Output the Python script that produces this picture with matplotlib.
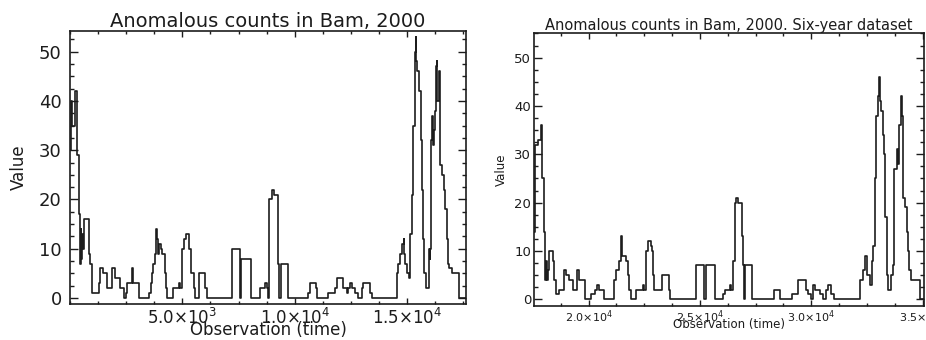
import matplotlib
matplotlib.use("Agg")
import matplotlib.pyplot as plt
from matplotlib.ticker import FixedLocator, MultipleLocator

# left panel: Bam 2000 (step values, x = observation start of each step)
left_x = [0, 40, 100, 220, 330, 400, 450, 480, 510, 540, 570, 610, 840, 910, 980,
          1280, 1350, 1470, 1650, 1870, 2020, 2220, 2400, 2510, 2545, 2770, 2810,
          3070, 3510, 3590, 3640, 3700, 3760, 3810, 3850, 3900, 3960, 4030, 4110,
          4210, 4260, 4300, 4570, 4840, 4880, 5000, 5075, 5150, 5300, 5400, 5500,
          5570, 5720, 5990, 6100, 7217, 7545, 7620, 8066, 8437, 8690, 8780, 8810,
          8850, 8990, 9080, 9256, 9300, 9380, 9700, 10595, 10669, 10967, 11000,
          11490, 11785, 11860, 12157, 12306, 12381, 12455, 12530, 12679, 12827,
          12976, 13050, 13348, 13423, 14538, 14612, 14687, 14761, 14840, 14880,
          14910, 14984, 15089, 15133, 15208, 15252, 15282, 15356, 15380, 15401,
          15431, 15550, 15600, 15654, 15700, 15758, 15847, 15952, 15996, 16026,
          16060, 16100, 16140, 16175, 16249, 16294, 16324, 16350, 16398, 16472,
          16547, 16621, 16696, 16770, 16815, 16874, 16993, 17291, 17618]
left_v = [30, 40, 35, 42, 29, 17, 7, 14, 8, 13, 10, 16, 9, 7, 1,
          3, 6, 5, 2, 6, 4, 2, 0, 1, 3, 6, 3,
          0, 1, 3, 5, 7, 9, 14, 12, 9, 11, 10, 9,
          5, 2, 0, 2, 3, 2, 10, 12, 13, 10, 5, 2,
          0, 5, 2, 0, 10, 0, 8, 0, 2, 3, 2, 0,
          20, 22, 21, 7, 0, 7, 0, 1, 3, 2, 0,
          1, 2, 4, 2, 1, 2, 3, 2, 1, 0,
          2, 3, 1, 0, 5, 7, 9, 11, 12, 9,
          7, 5, 4, 13, 21, 31, 35, 50, 53, 48,
          46, 42, 32, 22, 12, 5, 2, 10, 8, 10,
          32, 37, 31, 34, 38, 47, 48, 40, 46, 27,
          25, 22, 18, 12, 7, 6, 5, 0, 0]

# right panel: six-year dataset
right_x = [17550, 17580, 17610, 17740, 17860, 17930, 17980, 18040, 18080, 18120,
           18160, 18232, 18382, 18457, 18532, 18682, 18907, 18982, 19132, 19282,
           19480, 19582, 19850, 20107, 20300, 20377, 20482, 20707, 21157, 21232,
           21382, 21440, 21500, 21682, 21757, 21832, 21907, 22132, 22432, 22507,
           22582, 22657, 22807, 22852, 22882, 22957, 23302, 23602, 23662, 24832,
           25177, 25252, 25687, 26032, 26107, 26332, 26377, 26482, 26587, 26632,
           26707, 26887, 26932, 26962, 27007, 27352, 28312, 28612, 29152, 29407,
           29782, 29857, 29980, 30060, 30157, 30382, 30532, 30682, 30757, 30907,
           31027, 32182, 32332, 32407, 32482, 32632, 32707, 32782, 32857, 32902,
           32977, 33037, 33070, 33127, 33232, 33277, 33307, 33382, 33457, 33577,
           33652, 33712, 33832, 33907, 33952, 34027, 34057, 34132, 34207, 34282,
           34340, 34400, 34470, 34870, 35060]
right_v = [14, 24, 32, 33, 36, 25, 14, 4, 8, 4,
           6, 10, 8, 4, 1, 2, 6, 5, 4, 2,
           6, 4, 0, 1, 2, 3, 2, 0, 4, 6,
           8, 13, 9, 8, 5, 2, 0, 2, 3, 2,
           10, 12, 11, 10, 5, 2, 5, 2, 0, 7,
           0, 7, 0, 1, 2, 3, 2, 8, 20, 21,
           20, 13, 7, 0, 7, 0, 2, 0, 1, 4,
           2, 1, 0, 3, 2, 1, 0, 2, 3, 1,
           0, 4, 6, 9, 5, 3, 8, 11, 25, 38,
           42, 46, 41, 39, 34, 30, 17, 5, 2, 5,
           7, 27, 31, 28, 36, 42, 38, 21, 19, 14,
           10, 6, 4, 0, 0]

left_ticks = [5000, 10000, 15000]
left_ticklabels = [r'5.0$\times$10$^{3}$', r'1.0$\times$10$^{4}$', r'1.5$\times$10$^{4}$']
right_ticks = [20000, 25000, 30000, 35000]
right_ticklabels = [r'2.0$\times$10$^{4}$', r'2.5$\times$10$^{4}$',
                    r'3.0$\times$10$^{4}$', r'3.5$\times$10$^{4}$']

plt.rcParams['font.family'] = ['DejaVu Sans']
plt.rcParams['mathtext.fontset'] = 'dejavusans'
ink = '#1c1c1c'

fig = plt.figure(figsize=(9.26, 3.40), dpi=100)
ax1 = fig.add_axes([0.0756, 0.106, 0.4276, 0.803])
ax2 = fig.add_axes([0.5767, 0.100, 0.4211, 0.803])


def style(ax, ticks, labels, big):
    for s in ax.spines.values():
        s.set_linewidth(1.2)
        s.set_color(ink)
    ax.xaxis.set_major_locator(FixedLocator(ticks))
    ax.set_xticklabels(labels)
    ax.xaxis.set_minor_locator(MultipleLocator(1250))
    ax.yaxis.set_major_locator(MultipleLocator(10))
    ax.yaxis.set_minor_locator(MultipleLocator(2.5))
    ax.tick_params(which='both', direction='in', top=True, right=True,
                   colors=ink, width=1.0)
    ax.tick_params(axis='y', which='major', length=5.8)
    ax.tick_params(axis='y', which='minor', length=2.9)
    ax.tick_params(axis='x', which='major', length=4.0)
    ax.tick_params(axis='x', which='minor', length=2.0)
    if big:
        ax.tick_params(axis='y', labelsize=13, pad=6)
        ax.tick_params(axis='x', labelsize=12, pad=3)
    else:
        ax.tick_params(axis='y', labelsize=9.5, pad=2)
        ax.tick_params(axis='x', labelsize=8, pad=2)


ax1.step(left_x, left_v, where='post', color=ink, lw=1.2)
ax1.set_xlim(0, 17618)
ax1.set_ylim(-1.2, 54.2)
style(ax1, left_ticks, left_ticklabels, True)
ax1.set_title('Anomalous counts in Bam, 2000', fontsize=14, color=ink, pad=3)
ax1.set_xlabel('Observation (time)', fontsize=12, color=ink, labelpad=-5)
ax1.set_ylabel('Value', fontsize=12, color=ink, labelpad=8)

ax2.step(right_x, right_v, where='post', color=ink, lw=1.2)
ax2.set_xlim(17550, 35060)
ax2.set_ylim(-1.4, 55.1)
style(ax2, right_ticks, right_ticklabels, False)
ax2.set_title('Anomalous counts in Bam, 2000. Six-year dataset', fontsize=10.5,
              color=ink, pad=2)
ax2.set_xlabel('Observation (time)', fontsize=8.5, color=ink, labelpad=-5)
ax2.set_ylabel('Value', fontsize=8.5, color=ink, labelpad=5)

fig.savefig('out.png', dpi=100)
